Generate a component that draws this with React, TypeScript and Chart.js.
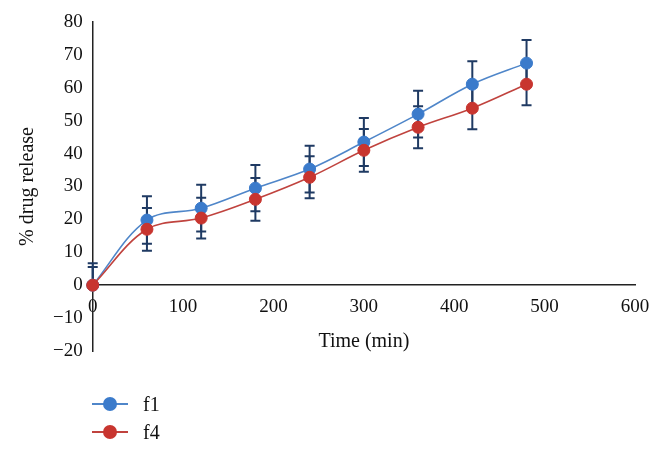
import React, { useEffect, useRef } from "react";
import { Chart, registerables } from "chart.js";

Chart.register(...registerables);

const times = [0, 60, 120, 180, 240, 300, 360, 420, 480];
const f1Values = [0, 19.8, 23.4, 29.5, 35.3, 43.5, 52.0, 61.1, 67.5];
const f4Values = [0, 17.0, 20.4, 26.1, 32.8, 41.0, 48.0, 53.8, 61.1];
const f1ErrorsUp = [6.7, 7.2, 7.1, 7.0, 7.1, 7.3, 7.1, 7.0, 7.0];
const f1ErrorsDown = [0, 7.2, 7.1, 7.0, 7.1, 7.3, 7.1, 7.0, 7.0];
const f4ErrorsUp = [5.5, 6.5, 6.2, 6.5, 6.4, 6.5, 6.4, 6.4, 6.4];
const f4ErrorsDown = [0, 6.5, 6.2, 6.5, 6.4, 6.5, 6.4, 6.4, 6.4];
const seriesLabels = ["f1", "f4"];
const xTitle = "Time (min)";
const yTitle = "% drug release";

const BLUE_LINE = "#4F86C9";
const BLUE_MARK = "#3B7BCB";
const RED_LINE = "#C0433E";
const RED_MARK = "#C8352F";
const ERR_COLOR = "#1F3A63";
const FONT = "'Liberation Serif', 'Times New Roman', serif";

const errorBarPlugin = {
  id: "errorBars",
  beforeDatasetsDraw(chart: any) {
    const { ctx, scales } = chart;
    const xs = scales.x;
    const ys = scales.y;
    ctx.save();
    ctx.strokeStyle = ERR_COLOR;
    ctx.lineWidth = 2;
    chart.data.datasets.forEach((ds: any) => {
      const up: number[] = ds.errorsUp || [];
      const down: number[] = ds.errorsDown || [];
      ds.data.forEach((p: any, j: number) => {
        const px = xs.getPixelForValue(p.x);
        const mid = ys.getPixelForValue(p.y);
        ctx.beginPath();
        if (up[j]) {
          const top = ys.getPixelForValue(p.y + up[j]);
          ctx.moveTo(px, mid);
          ctx.lineTo(px, top);
          ctx.moveTo(px - 5, top);
          ctx.lineTo(px + 5, top);
        }
        if (down[j]) {
          const bot = ys.getPixelForValue(p.y - down[j]);
          ctx.moveTo(px, mid);
          ctx.lineTo(px, bot);
          ctx.moveTo(px - 5, bot);
          ctx.lineTo(px + 5, bot);
        }
        ctx.stroke();
      });
    });
    ctx.restore();
  },
};

const minusFmt = (v: any) => String(v).replace("-", "\u2212");

export default function App() {
  const ref = useRef<HTMLCanvasElement | null>(null);

  useEffect(() => {
    document.body.style.margin = "0";
    if (!ref.current) return;
    const chart = new Chart(ref.current, {
      type: "line",
      data: {
        datasets: [
          {
            label: seriesLabels[0],
            data: times.map((t, i) => ({ x: t, y: f1Values[i] })),
            borderColor: BLUE_LINE,
            backgroundColor: BLUE_MARK,
            pointBackgroundColor: BLUE_MARK,
            pointBorderColor: BLUE_MARK,
            pointRadius: 6,
            pointBorderWidth: 1,
            borderWidth: 1.6,
            tension: 0.35,
            clip: false,
            order: 1,
            errorsUp: f1ErrorsUp,
            errorsDown: f1ErrorsDown,
          } as any,
          {
            label: seriesLabels[1],
            data: times.map((t, i) => ({ x: t, y: f4Values[i] })),
            borderColor: RED_LINE,
            backgroundColor: RED_MARK,
            pointBackgroundColor: RED_MARK,
            pointBorderColor: RED_MARK,
            pointRadius: 6,
            pointBorderWidth: 1,
            borderWidth: 1.6,
            tension: 0.35,
            clip: false,
            order: 0,
            errorsUp: f4ErrorsUp,
            errorsDown: f4ErrorsDown,
          } as any,
        ],
      },
      options: {
        responsive: false,
        animation: false,
        layout: { padding: { left: 6, top: 22, right: 29, bottom: 100 } },
        plugins: {
          legend: { display: false },
          tooltip: { enabled: false },
        },
        scales: {
          x: {
            type: "linear",
            position: { y: 0 } as any,
            min: 0,
            max: 600,
            ticks: {
              stepSize: 100,
              color: "#111",
              font: { family: FONT, size: 19 },
              padding: 10,
              maxRotation: 0,
            },
            grid: { display: false, drawTicks: false },
            border: { display: true, color: "#222", width: 1.5 },
            title: {
              display: true,
              text: xTitle,
              color: "#111",
              font: { family: FONT, size: 20 },
              padding: { top: 2, bottom: 0 },
            },
          },
          y: {
            type: "linear",
            min: -20,
            max: 80,
            ticks: {
              stepSize: 10,
              color: "#111",
              font: { family: FONT, size: 19 },
              padding: 10,
              callback: (v: any) => minusFmt(v),
            },
            grid: { display: false, drawTicks: false },
            border: { display: true, color: "#222", width: 1.5 },
            title: {
              display: true,
              text: yTitle,
              color: "#111",
              font: { family: FONT, size: 20 },
              padding: { top: 10, bottom: 3 },
            },
          },
        },
      },
      plugins: [errorBarPlugin],
    });
    return () => chart.destroy();
  }, []);

  const legendItems = [
    { label: seriesLabels[0], line: BLUE_LINE, mark: BLUE_MARK },
    { label: seriesLabels[1], line: RED_LINE, mark: RED_MARK },
  ];

  return (
    <div style={{ position: "relative", width: 664, height: 451, background: "#fff" }}>
      <canvas ref={ref} width={664} height={451} style={{ position: "absolute", left: 0, top: 0 }} />
      <div style={{ position: "absolute", left: 92, top: 390 }}>
        {legendItems.map((it) => (
          <div key={it.label} style={{ display: "flex", alignItems: "center", height: 28 }}>
            <div style={{ position: "relative", width: 36, height: 14 }}>
              <div style={{ position: "absolute", left: 0, top: 6, width: 36, height: 2, background: it.line }} />
              <div style={{ position: "absolute", left: 11, top: 0, width: 14, height: 14, borderRadius: 7, background: it.mark }} />
            </div>
            <span style={{ marginLeft: 15, fontFamily: FONT, fontSize: 20, color: "#111", lineHeight: "28px" }}>{it.label}</span>
          </div>
        ))}
      </div>
    </div>
  );
}
